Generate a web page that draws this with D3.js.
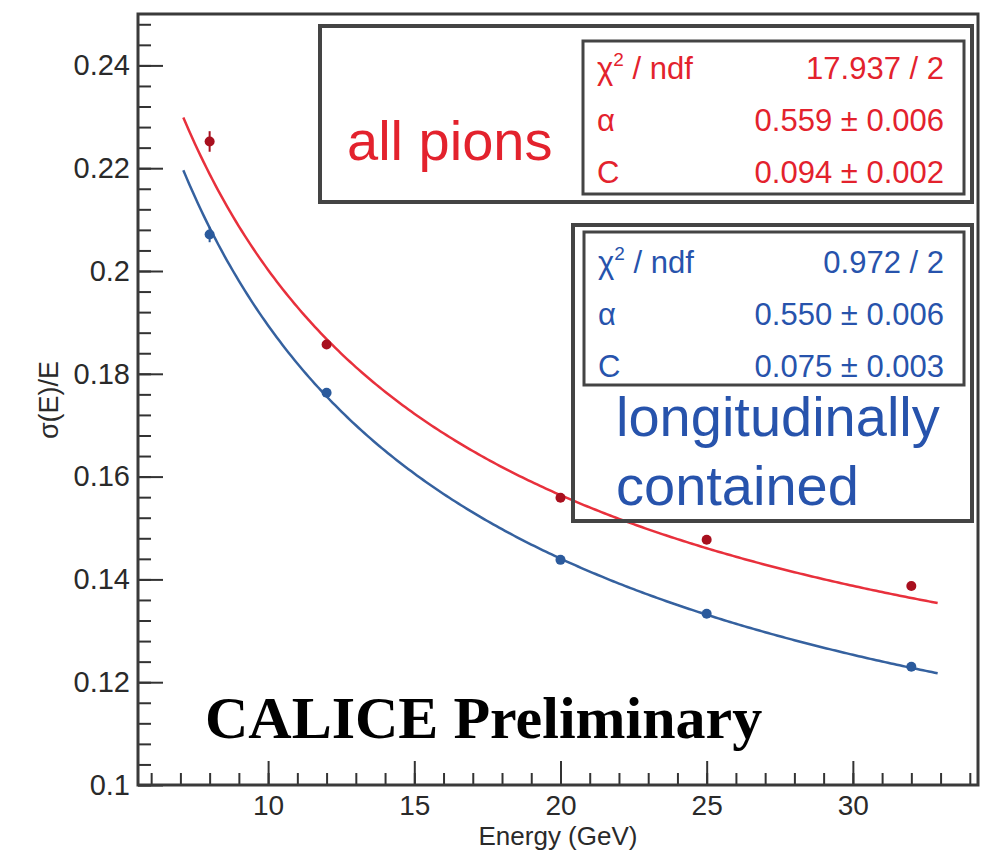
<!DOCTYPE html>
<html>
<head>
<meta charset="utf-8">
<script src="https://cdn.jsdelivr.net/npm/d3@7"></script>
<style>
  body { margin: 0; background: #fff; }
  svg { display: block; font-family: 'Liberation Sans', Arial, sans-serif; }
</style>
</head>
<body>
<script>
// beam energies (GeV) and measured resolution sigma(E)/E
const energies = [8, 12, 20, 25, 32];
const allPions = [0.2252, 0.1857, 0.1559, 0.1477, 0.1387];
const allPionsErr = [0.0020, 0.0008, 0.0006, 0.0006, 0.0006];
const contained = [0.2071, 0.1763, 0.1438, 0.1333, 0.1230];
const containedErr = [0.0015, 0.0007, 0.0005, 0.0005, 0.0005];

// fit sigma/E = alpha/sqrt(E) (+) C, [all pions, contained]
const fitAlpha = [0.559, 0.550];
const fitConst = [0.094, 0.075];
const fitRange = [7.1, 32.9];

const statNames = ['χ', 'α', 'C'];
const statsAllPions = ['17.937 / 2', '0.559 ± 0.006', '0.094 ± 0.002'];
const statsContained = ['0.972 / 2', '0.550 ± 0.006', '0.075 ± 0.003'];

const xMajor = [10, 15, 20, 25, 30];
const xMinor = d3.range(6, 35, 1);
const yMajor = [0.1, 0.12, 0.14, 0.16, 0.18, 0.2, 0.22, 0.24];
const yMinor = d3.range(0, 38).map(i => 0.1 + i * 0.004);

const width = 992;
const height = 855;
const margin = { top: 14, right: 14, bottom: 70, left: 138 };

const red = '#e3222d';
const redLine = '#e8303c';
const redDot = '#a80f1e';
const blue = '#2753ac';
const blueDot = '#2b5a9c';
const blueLine = '#35619f';

const x = d3.scaleLinear()
  .domain([5.55, 34.28])
  .range([margin.left, width - margin.right]);

const y = d3.scaleLinear()
  .domain([0.1, 0.25])
  .range([height - margin.bottom, margin.top]);

const svg = d3.select('body').append('svg')
  .attr('width', width)
  .attr('height', height);

const fmt = d => String(+d.toFixed(3));

// x axis
svg.append('g')
  .attr('transform', `translate(0,${height - margin.bottom})`)
  .call(d3.axisBottom(x).tickValues(xMinor).tickSize(-12).tickFormat(''))
  .call(g => g.select('.domain').remove());

svg.append('g')
  .attr('transform', `translate(0,${height - margin.bottom})`)
  .call(d3.axisBottom(x).tickValues(xMajor).tickSize(-24).tickPadding(10).tickFormat(fmt))
  .call(g => g.select('.domain').remove())
  .call(g => g.selectAll('text').attr('font-size', 28).attr('fill', '#2a2a2a').attr('font-family', null));

// y axis
svg.append('g')
  .attr('transform', `translate(${margin.left},0)`)
  .call(d3.axisLeft(y).tickValues(yMinor).tickSize(-13).tickFormat(''))
  .call(g => g.select('.domain').remove());

svg.append('g')
  .attr('transform', `translate(${margin.left},0)`)
  .call(d3.axisLeft(y).tickValues(yMajor).tickSize(-25).tickPadding(8).tickFormat(fmt))
  .call(g => g.select('.domain').remove())
  .call(g => g.selectAll('text').attr('font-size', 29).attr('fill', '#2a2a2a').attr('font-family', null));

svg.selectAll('.tick line').attr('stroke', '#333').attr('stroke-width', 2);

// frame
svg.append('rect')
  .attr('x', margin.left)
  .attr('y', margin.top)
  .attr('width', width - margin.left - margin.right)
  .attr('height', height - margin.top - margin.bottom)
  .attr('fill', 'none')
  .attr('stroke', '#3a3a3a')
  .attr('stroke-width', 3);

// titles
svg.append('text')
  .attr('x', (margin.left + width - margin.right) / 2)
  .attr('y', 845)
  .attr('text-anchor', 'middle')
  .attr('font-size', 26)
  .attr('fill', '#2a2a2a')
  .text('Energy (GeV)');

svg.append('text')
  .attr('transform', 'translate(58,400) rotate(-90)')
  .attr('text-anchor', 'middle')
  .attr('font-size', 27)
  .attr('fill', '#2a2a2a')
  .text('σ(E)/E');

// fit curves
const fitLine = (a, c) => d3.line()
  .x(e => x(e))
  .y(e => y(Math.sqrt(a * a / e + c * c)));

const fitE = d3.range(fitRange[0], fitRange[1] + 0.001, 0.1);

svg.append('path')
  .attr('d', fitLine(fitAlpha[0], fitConst[0])(fitE))
  .attr('fill', 'none')
  .attr('stroke', redLine)
  .attr('stroke-width', 2.5);

svg.append('path')
  .attr('d', fitLine(fitAlpha[1], fitConst[1])(fitE))
  .attr('fill', 'none')
  .attr('stroke', blueLine)
  .attr('stroke-width', 2.5);

// data points with error bars
const drawPoints = (vals, errs, color) => {
  const g = svg.append('g');
  g.selectAll('line')
    .data(energies)
    .join('line')
    .attr('x1', d => x(d))
    .attr('x2', d => x(d))
    .attr('y1', (d, i) => y(vals[i] - errs[i]))
    .attr('y2', (d, i) => y(vals[i] + errs[i]))
    .attr('stroke', color)
    .attr('stroke-width', 2);
  g.selectAll('circle')
    .data(energies)
    .join('circle')
    .attr('cx', d => x(d))
    .attr('cy', (d, i) => y(vals[i]))
    .attr('r', 5)
    .attr('fill', color);
};

drawPoints(allPions, allPionsErr, redDot);
drawPoints(contained, containedErr, blueDot);

// stats boxes
const statsBox = (g, x0, y0, rows, color) => {
  rows.forEach((v, i) => {
    const ty = y0 + i * 52;
    const name = g.append('text')
      .attr('x', x0)
      .attr('y', ty)
      .attr('font-size', 31)
      .attr('fill', color)
      .text(statNames[i]);
    if (i === 0) {
      name.append('tspan').attr('font-size', 19).attr('dy', -13).text('2');
      name.append('tspan').attr('dy', 13).text(' / ndf');
    }
    g.append('text')
      .attr('x', 944)
      .attr('y', ty)
      .attr('text-anchor', 'end')
      .attr('font-size', 31)
      .attr('fill', color)
      .text(v);
  });
};

const boxes = svg.append('g');

boxes.append('rect')
  .attr('x', 320).attr('y', 26).attr('width', 652).attr('height', 176)
  .attr('fill', '#fff').attr('stroke', '#444').attr('stroke-width', 4);
boxes.append('rect')
  .attr('x', 583).attr('y', 41).attr('width', 381).attr('height', 153)
  .attr('fill', '#fff').attr('stroke', '#444').attr('stroke-width', 3);
boxes.append('text')
  .attr('x', 347).attr('y', 160)
  .attr('font-size', 56)
  .attr('fill', red)
  .text('all pions');
statsBox(boxes, 597, 79, statsAllPions, red);

boxes.append('rect')
  .attr('x', 573).attr('y', 225).attr('width', 399).attr('height', 296)
  .attr('fill', 'none').attr('stroke', '#444').attr('stroke-width', 4);
boxes.append('rect')
  .attr('x', 584).attr('y', 232).attr('width', 380).attr('height', 153)
  .attr('fill', '#fff').attr('stroke', '#444').attr('stroke-width', 3);
statsBox(boxes, 598, 273, statsContained, blue);
boxes.append('text')
  .attr('x', 616).attr('y', 436)
  .attr('font-size', 56)
  .attr('fill', blue)
  .text('longitudinally');
boxes.append('text')
  .attr('x', 616).attr('y', 505)
  .attr('font-size', 56)
  .attr('fill', blue)
  .text('contained');

svg.append('text')
  .attr('x', 205)
  .attr('y', 738)
  .attr('font-family', "'Liberation Serif', 'Times New Roman', serif")
  .attr('font-weight', 'bold')
  .attr('font-size', 60)
  .attr('fill', '#000')
  .text('CALICE Preliminary');
</script>
</body>
</html>
